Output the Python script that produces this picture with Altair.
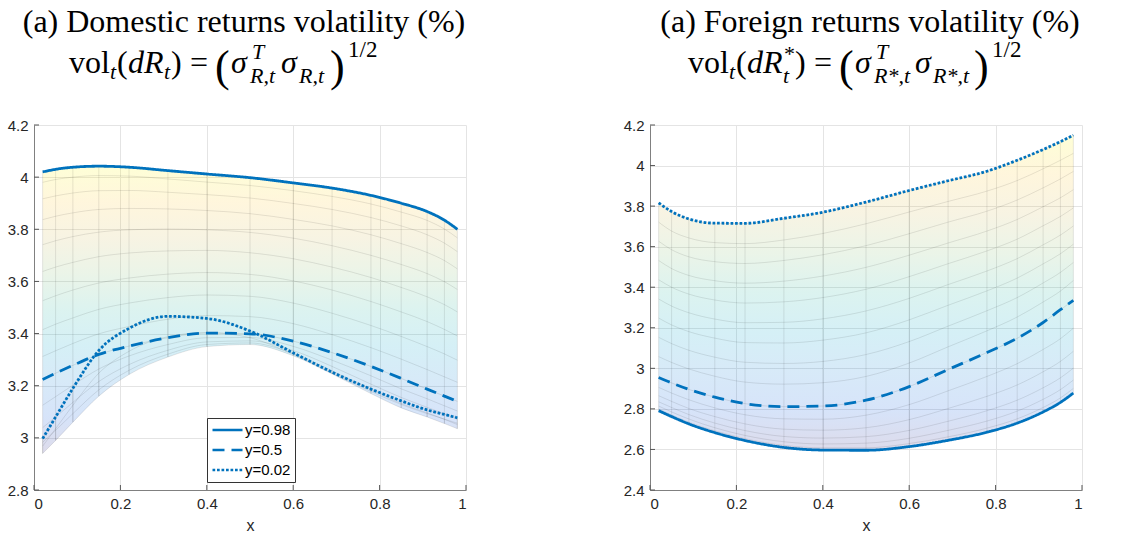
import altair as alt
import pandas as pd

# Grid of x positions at which every surface row is tabulated
XS = [0.02, 0.05, 0.09, 0.15, 0.22, 0.31, 0.40, 0.50, 0.60, 0.69, 0.78, 0.85, 0.91, 0.95, 0.98]

# Domestic returns volatility surface: rows of constant y, from y=0.02 up to y=0.98
DOM_Y002 = [2.997, 3.080, 3.190, 3.335, 3.420, 3.466, 3.458, 3.410, 3.326, 3.252, 3.187, 3.142, 3.107, 3.090, 3.077]
DOM_R02 = [2.968, 3.035, 3.125, 3.248, 3.332, 3.388, 3.404, 3.384, 3.320, 3.248, 3.178, 3.128, 3.093, 3.072, 3.056]
DOM_R03 = [2.940, 2.990, 3.060, 3.160, 3.243, 3.310, 3.350, 3.358, 3.315, 3.245, 3.170, 3.115, 3.080, 3.055, 3.035]
DOM_R04 = [2.983, 3.029, 3.093, 3.184, 3.259, 3.321, 3.358, 3.364, 3.323, 3.257, 3.186, 3.132, 3.096, 3.071, 3.051]
DOM_R05 = [3.039, 3.080, 3.136, 3.216, 3.281, 3.336, 3.368, 3.372, 3.335, 3.274, 3.206, 3.155, 3.117, 3.092, 3.072]
DOM_R06 = [3.125, 3.158, 3.202, 3.264, 3.314, 3.358, 3.384, 3.385, 3.351, 3.298, 3.238, 3.188, 3.150, 3.123, 3.103]
DOM_Y050 = [3.224, 3.248, 3.278, 3.320, 3.352, 3.384, 3.402, 3.399, 3.371, 3.327, 3.274, 3.228, 3.187, 3.160, 3.140]
DOM_R08 = [3.312, 3.334, 3.362, 3.399, 3.427, 3.455, 3.469, 3.465, 3.438, 3.396, 3.346, 3.302, 3.262, 3.234, 3.213]
DOM_R09 = [3.415, 3.436, 3.460, 3.493, 3.517, 3.538, 3.548, 3.543, 3.517, 3.478, 3.431, 3.389, 3.350, 3.322, 3.298]
DOM_R10 = [3.526, 3.545, 3.567, 3.594, 3.613, 3.628, 3.634, 3.627, 3.602, 3.567, 3.523, 3.483, 3.446, 3.416, 3.391]
DOM_R11 = [3.638, 3.655, 3.673, 3.695, 3.709, 3.717, 3.719, 3.710, 3.687, 3.655, 3.615, 3.577, 3.541, 3.511, 3.483]
DOM_R12 = [3.741, 3.756, 3.772, 3.789, 3.798, 3.801, 3.798, 3.788, 3.766, 3.737, 3.700, 3.665, 3.630, 3.599, 3.569]
DOM_R13 = [3.837, 3.850, 3.863, 3.876, 3.880, 3.878, 3.872, 3.860, 3.838, 3.813, 3.779, 3.745, 3.711, 3.680, 3.648]
DOM_R14 = [3.917, 3.928, 3.939, 3.948, 3.949, 3.942, 3.933, 3.920, 3.899, 3.876, 3.845, 3.813, 3.779, 3.747, 3.714]
DOM_R15 = [3.980, 3.991, 4.000, 4.006, 4.004, 3.993, 3.981, 3.968, 3.948, 3.926, 3.897, 3.866, 3.834, 3.801, 3.767]
DOM_Y098 = [4.020, 4.030, 4.038, 4.042, 4.038, 4.025, 4.012, 3.998, 3.978, 3.958, 3.930, 3.900, 3.868, 3.835, 3.800]

DOM_ROWS = [DOM_Y002, DOM_R02, DOM_R03, DOM_R04, DOM_R05, DOM_R06, DOM_Y050, DOM_R08,
            DOM_R09, DOM_R10, DOM_R11, DOM_R12, DOM_R13, DOM_R14, DOM_R15, DOM_Y098]

# Foreign returns volatility surface: rows of constant y, from y=0.02 down to y=0.98
FOR_Y002 = [3.816, 3.773, 3.737, 3.716, 3.715, 3.740, 3.770, 3.820, 3.877, 3.925, 3.972, 4.026, 4.079, 4.118, 4.150]
FOR_R02 = [3.721, 3.677, 3.643, 3.620, 3.615, 3.633, 3.665, 3.713, 3.771, 3.823, 3.874, 3.926, 3.984, 4.026, 4.060]
FOR_R03 = [3.627, 3.585, 3.550, 3.526, 3.517, 3.532, 3.560, 3.605, 3.664, 3.721, 3.775, 3.830, 3.890, 3.934, 3.971]
FOR_R04 = [3.532, 3.492, 3.458, 3.432, 3.420, 3.430, 3.455, 3.498, 3.558, 3.618, 3.677, 3.734, 3.797, 3.841, 3.881]
FOR_R05 = [3.437, 3.400, 3.366, 3.337, 3.322, 3.328, 3.349, 3.390, 3.452, 3.516, 3.579, 3.637, 3.703, 3.749, 3.791]
FOR_R06 = [3.342, 3.307, 3.274, 3.243, 3.225, 3.227, 3.244, 3.283, 3.345, 3.413, 3.480, 3.541, 3.609, 3.657, 3.702]
FOR_R07 = [3.248, 3.214, 3.181, 3.149, 3.127, 3.125, 3.139, 3.175, 3.239, 3.311, 3.382, 3.445, 3.515, 3.565, 3.612]
FOR_R08 = [3.153, 3.122, 3.089, 3.055, 3.030, 3.024, 3.034, 3.068, 3.132, 3.208, 3.284, 3.349, 3.421, 3.473, 3.522]
FOR_R09 = [3.058, 3.029, 2.997, 2.961, 2.932, 2.922, 2.929, 2.960, 3.026, 3.106, 3.185, 3.253, 3.327, 3.381, 3.433]
FOR_Y050 = [2.955, 2.928, 2.896, 2.858, 2.826, 2.811, 2.814, 2.843, 2.910, 2.994, 3.078, 3.148, 3.226, 3.289, 3.335]
FOR_R11 = [2.906, 2.878, 2.845, 2.805, 2.771, 2.751, 2.749, 2.769, 2.821, 2.889, 2.960, 3.023, 3.093, 3.146, 3.198]
FOR_R12 = [2.865, 2.837, 2.802, 2.762, 2.726, 2.700, 2.695, 2.707, 2.747, 2.802, 2.862, 2.918, 2.983, 3.034, 3.084]
FOR_R13 = [2.835, 2.807, 2.772, 2.730, 2.693, 2.664, 2.656, 2.663, 2.694, 2.739, 2.791, 2.843, 2.904, 2.953, 3.001]
FOR_R14 = [2.814, 2.785, 2.750, 2.707, 2.669, 2.638, 2.627, 2.631, 2.655, 2.694, 2.740, 2.789, 2.847, 2.895, 2.942]
FOR_R15 = [2.799, 2.770, 2.734, 2.692, 2.653, 2.620, 2.608, 2.608, 2.629, 2.662, 2.705, 2.751, 2.807, 2.854, 2.901]
FOR_Y098 = [2.791, 2.762, 2.726, 2.683, 2.644, 2.610, 2.597, 2.596, 2.614, 2.645, 2.685, 2.730, 2.785, 2.832, 2.878]

FOR_ROWS = [FOR_Y002, FOR_R02, FOR_R03, FOR_R04, FOR_R05, FOR_R06, FOR_R07, FOR_R08,
            FOR_R09, FOR_Y050, FOR_R11, FOR_R12, FOR_R13, FOR_R14, FOR_R15, FOR_Y098]

SERIES = ["y=0.98", "y=0.5", "y=0.02"]
DOM_NAMED = [DOM_Y098, DOM_Y050, DOM_Y002]
FOR_NAMED = [FOR_Y098, FOR_Y050, FOR_Y002]

X_TICKS = [0, 0.2, 0.4, 0.6, 0.8, 1]
DOM_TICKS = [2.8, 3, 3.2, 3.4, 3.6, 3.8, 4, 4.2]
FOR_TICKS = [2.4, 2.6, 2.8, 3, 3.2, 3.4, 3.6, 3.8, 4, 4.2]

BLUE = "#0072BD"
PARULA = ["#352A87", "#0F5CDD", "#1481D6", "#06A4CA", "#2EB7A4",
          "#87BF77", "#D1BB59", "#FEC832", "#F9FB0E"]
DASHES = [[1, 0], [12, 7], [2.7, 1.8]]

W, H = 432, 365
SERIF = "Liberation Serif"
SANS = "Liberation Sans"

# Formula pieces: text, x, baseline y (pixels from the plot's top-left), size, italic
DOM_MATH = [
    ("vol", 35, -52, 32, False), ("t", 76, -46, 22, True),
    ("(", 83, -52, 32, False), ("d", 94, -52, 32, True), ("R", 110, -52, 32, True),
    ("t", 130, -46, 22, True), (")", 137, -52, 32, False),
    ("=", 156, -52, 32, False),
    ("(", 181, -44, 44, False), ("σ", 197, -52, 32, True),
    ("T", 218, -66, 22, True), ("R,t", 216, -42, 22, True),
    ("σ", 247, -52, 32, True), ("R,t", 265, -42, 22, True),
    (")", 296, -44, 44, False), ("1/2", 314, -68, 23, False),
]
FOR_MATH = [
    ("vol", 38, -52, 32, False), ("t", 79, -46, 22, True),
    ("(", 86, -52, 32, False), ("d", 97, -52, 32, True), ("R", 113, -52, 32, True),
    ("*", 134, -64, 22, False), ("t", 133, -42, 22, True), (")", 145, -52, 32, False),
    ("=", 164, -52, 32, False),
    ("(", 189, -44, 44, False), ("σ", 205, -52, 32, True),
    ("T", 226, -66, 22, True), ("R*,t", 224, -42, 22, True),
    ("σ", 265, -52, 32, True), ("R*,t", 283, -42, 22, True),
    (")", 324, -44, 44, False), ("1/2", 342, -68, 23, False),
]


def panel(rows, named, ticks, title, title_x, math, show_legend):
    xscale = alt.Scale(domain=[0, 1], nice=False, zero=False)
    yscale = alt.Scale(domain=[ticks[0], ticks[-1]], nice=False, zero=False)
    xaxis = alt.Axis(values=X_TICKS, format="~g", title="x", grid=True)
    yaxis = alt.Axis(values=ticks, format="~g", title=None, grid=True)
    xenc = alt.X("x:Q", scale=xscale, axis=xaxis)
    yenc = alt.Y("z:Q", scale=yscale, axis=yaxis)

    mesh = pd.DataFrame(
        [{"row": i, "x": x, "z": z} for i, r in enumerate(rows) for x, z in zip(XS, r)]
    )
    base = alt.Chart(mesh)

    # translucent surface, coloured by height with a parula-like ramp
    gradient = {
        "gradient": "linear", "x1": 0, "y1": 1, "x2": 0, "y2": 0,
        "stops": [{"offset": i / (len(PARULA) - 1), "color": c} for i, c in enumerate(PARULA)],
    }
    fill = base.mark_area(color=gradient, fillOpacity=0.17, interpolate="monotone").encode(
        x=xenc,
        y=alt.Y("min(z):Q", scale=yscale, axis=yaxis),
        y2="max(z):Q",
    )
    # wire-frame of the surface
    rows_lines = base.mark_line(color="#000", strokeOpacity=0.12, strokeWidth=0.8,
                                interpolate="monotone").encode(
        x=xenc, y=yenc, detail="row:N", order="x:Q")
    col_lines = base.mark_line(color="#000", strokeOpacity=0.12, strokeWidth=0.8).encode(
        x=xenc, y=yenc, detail="x:N", order="row:Q")

    lab = pd.DataFrame(
        [{"series": s, "x": x, "z": z} for s, r in zip(SERIES, named) for x, z in zip(XS, r)]
    )
    if show_legend:
        legend = alt.Legend(
            title=None, orient="none", legendX=173, legendY=293, direction="vertical",
            symbolType="stroke", symbolSize=900, symbolStrokeWidth=2.7,
            symbolStrokeColor=BLUE, labelFont=SANS, labelFontSize=15, labelColor="#000",
            labelOffset=1, strokeColor="#333333", fillColor="white", padding=4,
            clipHeight=16, rowPadding=4, cornerRadius=0,
        )
    else:
        legend = None
    curves = alt.Chart(lab).mark_line(color=BLUE, strokeWidth=2.8, interpolate="monotone",
                                      strokeCap="butt").encode(
        x=xenc, y=yenc,
        strokeDash=alt.StrokeDash("series:N", scale=alt.Scale(domain=SERIES, range=DASHES),
                                  legend=legend),
        order="x:Q",
    )

    # inward tick marks
    xt = alt.Chart(pd.DataFrame({"x": X_TICKS})).mark_rule(color="#555", strokeWidth=1).encode(
        x=xenc, y=alt.value(H), y2=alt.value(H - 5))
    yt = alt.Chart(pd.DataFrame({"z": ticks})).mark_rule(color="#555", strokeWidth=1).encode(
        y=yenc, x=alt.value(0), x2=alt.value(5))

    layers = [fill, rows_lines, col_lines, curves, xt, yt]
    layers.append(
        alt.Chart(pd.DataFrame({"t": [title]})).mark_text(
            font=SERIF, fontSize=32, align="center", baseline="alphabetic", color="#000"
        ).encode(x=alt.value(title_x), y=alt.value(-93), text="t:N")
    )
    for txt, px, py, size, italic in math:
        layers.append(
            alt.Chart(pd.DataFrame({"t": [txt]})).mark_text(
                font=SERIF, fontSize=size, align="left", baseline="alphabetic",
                fontStyle="italic" if italic else "normal", color="#000"
            ).encode(x=alt.value(px), y=alt.value(py), text="t:N")
        )
    return alt.layer(*layers).properties(width=W, height=H)


left = panel(DOM_ROWS, DOM_NAMED, DOM_TICKS, "(a) Domestic returns volatility (%)", 210,
             DOM_MATH, True)
right = panel(FOR_ROWS, FOR_NAMED, FOR_TICKS, "(a) Foreign returns volatility (%)", 220,
              FOR_MATH, False)

chart = (
    alt.hconcat(left, right, spacing=156)
    .resolve_scale(strokeDash="independent")
    .resolve_legend(strokeDash="independent")
    .properties(padding={"left": 7, "top": 6, "right": 5, "bottom": 5})
    .configure_view(stroke=None)
    .configure_axis(
        labelFont=SANS, labelFontSize=15, labelColor="#262626", labelPadding=6,
        domainColor="#808080", domainWidth=1, ticks=False,
        gridColor="#e4e4e4", gridWidth=1,
        titleFont=SANS, titleFontSize=16, titleFontWeight="normal", titleColor="#262626",
        titlePadding=6,
    )
)

chart.save("out.html", embed_options={"renderer": "svg", "actions": False})
